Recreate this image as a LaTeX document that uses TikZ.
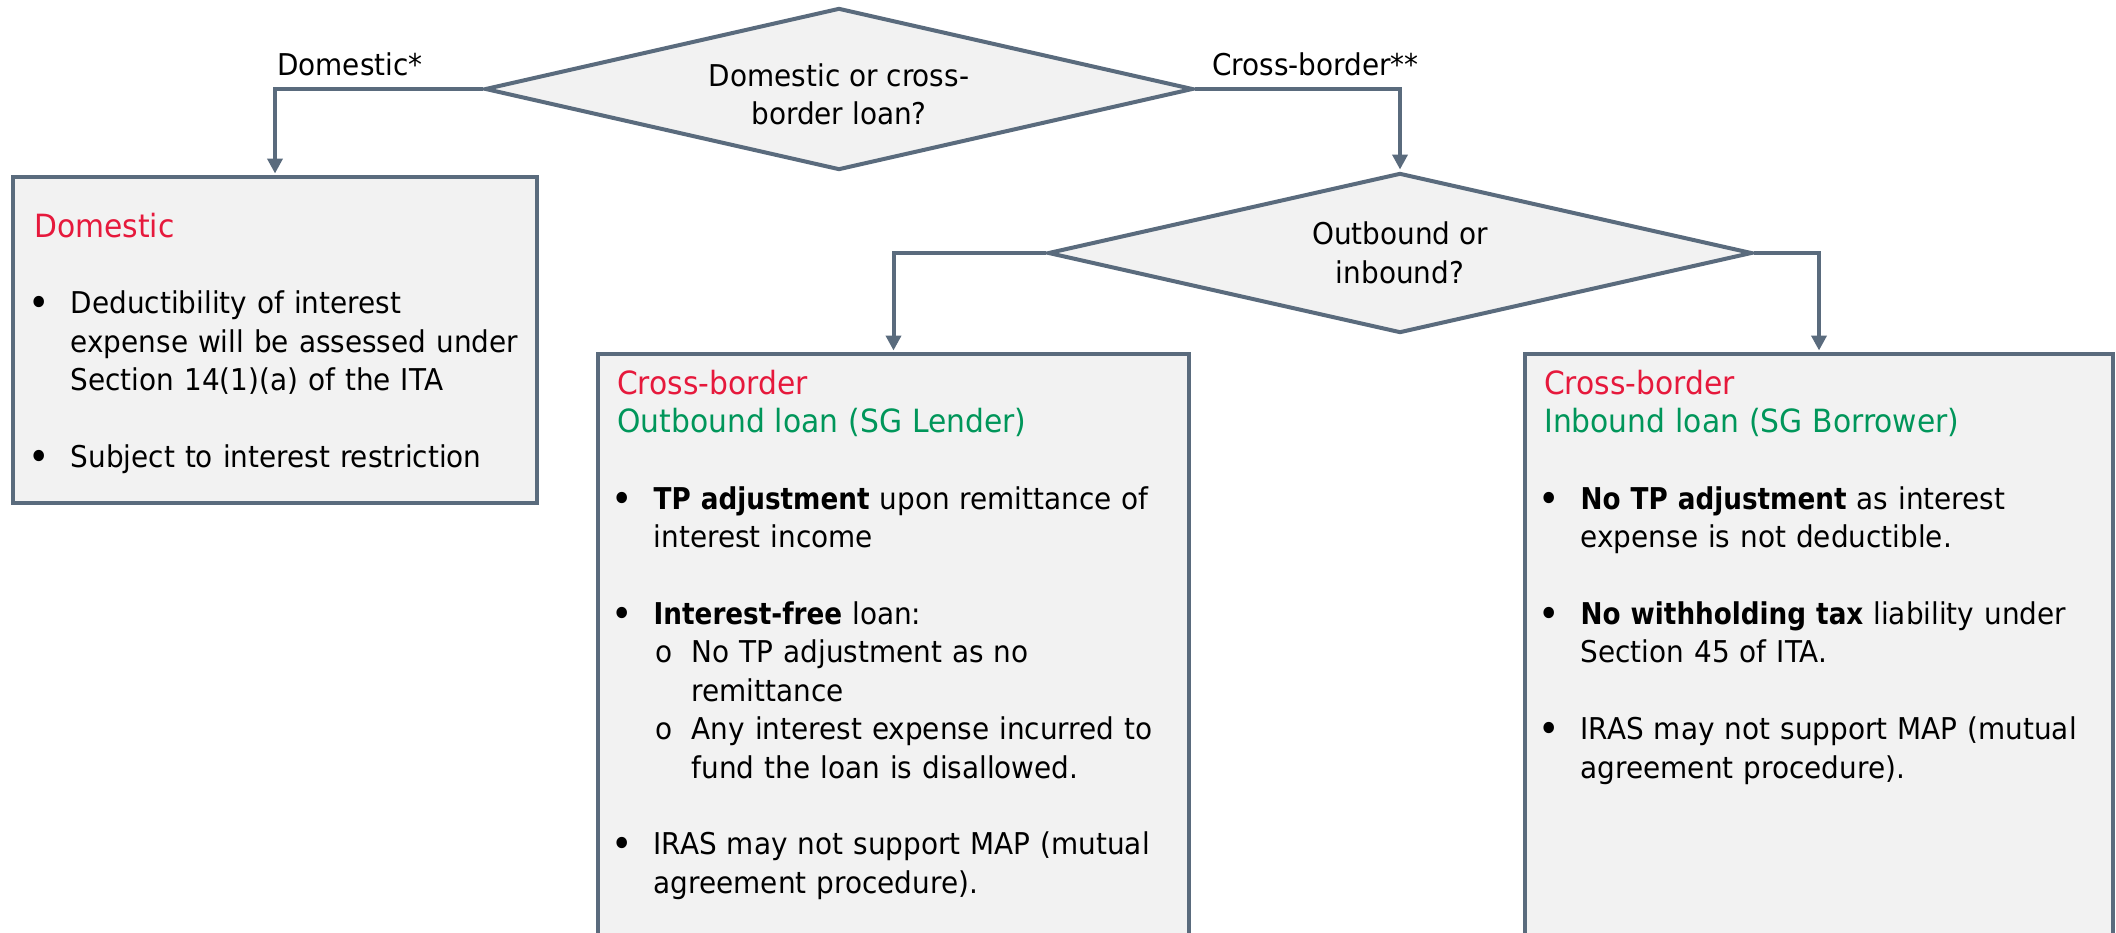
\documentclass[tikz,border=0pt]{standalone}
\usepackage{fontspec}
\setmainfont[FakeStretch=0.93,BoldFeatures={FakeStretch=0.875}]{DejaVu Sans}
\usetikzlibrary{shapes.geometric,arrows.meta}

\definecolor{edge}{HTML}{5A6B7D}
\definecolor{panel}{HTML}{F2F2F2}
\definecolor{headred}{HTML}{E6193C}
\definecolor{headgreen}{HTML}{00965A}

% heading font, a little larger than the body text
\newcommand\headfont{\fontsize{32pt}{38.4pt}\selectfont}
% enlarged bullet, kept centred on the x-height
\newcommand\bigdot{\raisebox{-3pt}{\scalebox{1.3}{\textbullet}}}
% bullet item: text indented 36.5pt from the heading, bullet centred 31.5pt left of the text
\newcommand\bitem[1]{\par\leftskip=36.5pt\noindent\strut\llap{\makebox[63pt]{\bigdot}}#1\par}
% second-level item with an "o" marker
\newcommand\sitem[1]{\par\leftskip=74.5pt\noindent\llap{\makebox[56pt]{o}}#1\par}
% one empty line between items
\newcommand\gap{\par\vspace{38.4pt}}

\tikzset{
  decision/.style={diamond, draw=edge, fill=panel, line width=4pt, inner sep=0pt, align=center},
  panelbox/.style={rectangle, draw=edge, fill=panel, line width=4pt, inner sep=0pt},
  conn/.style={draw=edge, line width=4pt, shorten >=1.5pt, -{Triangle[length=15pt,width=15pt]}},
  body/.style={anchor=north west, inner sep=0pt, align=left},
  lbl/.style={anchor=base west, inner sep=0pt},
}

\begin{document}
\begin{tikzpicture}[x=1pt, y=-1pt, font=\fontsize{30pt}{38.4pt}\selectfont]
\useasboundingbox (0,0) rectangle (2116,932);
\fill[white] (0,0) rectangle (2116,932);

% panels (the two lower ones run past the bottom edge)
\node[panelbox, minimum width=524pt, minimum height=326pt] (dom) at (275,340) {};
\node[panelbox, minimum width=591pt, minimum height=620pt] (out) at (893.5,664) {};
\node[panelbox, minimum width=588pt, minimum height=620pt] (in)  at (1819,664) {};

% decisions
\node[decision, aspect=4.37, minimum width=708pt, minimum height=162pt] (q1) at (839,89)
  {\rule{0pt}{34pt}Domestic or cross-\\border loan?};
\node[decision, aspect=4.4, minimum width=704pt, minimum height=160pt] (q2) at (1400,253)
  {Outbound or\\inbound?};

% connectors
\draw[conn] (q1.west) -| (dom.north);
\draw[conn] (q1.east) -| (q2.north);
\draw[conn] (q2.west) -| (out.north);
\draw[conn] (q2.east) -| (in.north);

% branch labels
\node[lbl] (lblDom) at (277,75) {Domestic*};
\node[lbl] (lblCross) at (1212,75) {Cross-border**};

% panel texts
\node[body, text width=520pt] (domText) at (34,210.1) {%
\strut{\headfont\textcolor{headred}{Domestic}}\gap
\bitem{Deductibility of interest\\expense will be assessed under\\Section 14(1)(a) of the ITA}\gap
\bitem{Subject to interest restriction}};

\node[body, text width=570pt] (outText) at (617,367.1) {%
\strut{\headfont\textcolor{headred}{Cross-border}}\\
{\headfont\textcolor{headgreen}{Outbound loan (SG Lender)}}\gap
\bitem{\textbf{TP adjustment} upon remittance of\\interest income}\gap
\bitem{\textbf{Interest-free} loan:}
\sitem{No TP adjustment as no\\remittance}
\sitem{Any interest expense incurred to\\fund the loan is disallowed.}\gap
\bitem{IRAS may not support MAP (mutual\\agreement procedure).}};

\node[body, text width=560pt] (inText) at (1544,367.1) {%
\strut{\headfont\textcolor{headred}{Cross-border}}\\
{\headfont\textcolor{headgreen}{Inbound loan (SG Borrower)}}\gap
\bitem{\textbf{No TP adjustment} as interest\\expense is not deductible.}\gap
\bitem{\textbf{No withholding tax} liability under\\Section 45 of ITA.}\gap
\bitem{IRAS may not support MAP (mutual\\agreement procedure).}};
\end{tikzpicture}
\end{document}
